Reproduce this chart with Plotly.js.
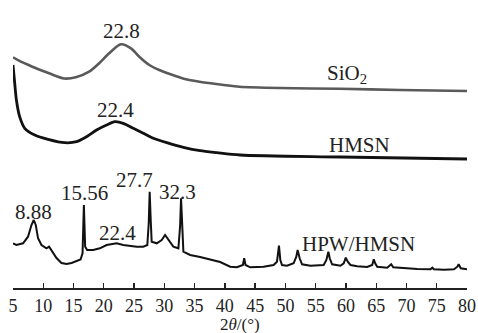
<!DOCTYPE html>
<html>
<head>
<meta charset="utf-8">
<script src="https://cdn.plot.ly/plotly-3.0.1.min.js"></script>
<style>html,body{margin:0;padding:0;background:#fff;}#chart{width:478px;height:333px;}</style>
</head>
<body>
<div id="chart"></div>
<script>
// 2θ (degrees) and intensity (arbitrary units, stacked offsets as drawn)
const sio2X = [5.0, 5.99, 8.2, 10.96, 13.44, 15.38, 17.58, 19.24, 20.89, 22.83, 24.49, 25.86, 27.52, 29.17, 31.37, 33.59, 35.79, 38.56, 41.31, 42.42, 49.0, 58.97, 68.9, 80.0];
const sio2Y = [230.7, 227.3, 221.3, 214.7, 209.5, 210.7, 216.3, 224.7, 234.7, 243.7, 239.7, 231.3, 223, 218, 213, 208.7, 206.3, 204, 202, 201.3, 200, 199.2, 198, 197];

const hmsnX = [5.0, 5.28, 5.56, 6.10, 6.94, 8.59, 10.79, 13.56, 15.50, 17.15, 18.81, 20.46, 21.84, 23.21, 24.87, 26.52, 28.18, 30.40, 33.15, 35.91, 38.68, 42.53, 59.09, 80.0];
const hmsnY = [223, 205, 188, 171.3, 159.7, 153, 148.7, 145.3, 146.3, 151.3, 158, 163, 166.3, 164.7, 159.7, 154.7, 149.7, 145.3, 140.7, 137.3, 135.3, 133, 131, 129];

const hpwX = [5.00, 5.56, 6.66, 7.48, 8.05, 8.43, 8.76, 9.14, 9.70, 10.53, 10.96, 11.36, 12.19, 13.01, 13.84, 14.67, 15.50, 16.16, 16.49, 16.71, 16.92, 17.25, 18.25, 19.35, 20.46, 22.12, 23.21, 24.32, 25.43, 26.52, 27.19, 27.42, 27.58, 27.75, 27.91, 28.74, 29.57, 30.12, 30.66, 31.49, 32.32, 32.60, 32.76, 32.93, 33.15, 34.26, 35.91, 39.22, 40.88, 41.99, 42.98, 43.19, 43.41, 44.19, 46.39, 48.05, 48.61, 48.94, 49.16, 49.44, 50.26, 51.36, 51.80, 52.02, 52.35, 52.75, 54.12, 56.32, 56.77, 57.10, 57.32, 57.72, 59.09, 59.64, 59.97, 60.30, 60.75, 61.85, 63.51, 64.34, 64.60, 64.83, 65.17, 66.82, 67.25, 67.48, 67.81, 69.57, 71.79, 73.99, 74.27, 74.54, 76.19, 77.85, 78.41, 78.62, 78.96, 80.0];
const hpwY = [44.7, 43, 44.7, 51.3, 63, 68, 63, 49.7, 43, 39.7, 41.3, 38, 30, 25, 24, 25, 27, 28.5, 34.7, 83, 41.3, 38, 38, 39.7, 43, 44.7, 43, 42, 41.3, 41.3, 43, 64.7, 96.3, 68, 46.3, 44.7, 48, 53, 48, 41.3, 39.7, 61.3, 89.7, 58, 36.3, 33, 31, 26, 21.3, 20.7, 23, 29.7, 23, 20.7, 21.3, 23, 26.3, 42.3, 28, 23, 22.3, 24.7, 31.3, 38, 29.7, 23.7, 22.3, 23, 28, 36.3, 29.7, 23.7, 22.3, 24.7, 30.3, 26.3, 23, 21.7, 21, 23, 28.7, 24.7, 21.3, 20.3, 22.3, 23.7, 20.7, 19.7, 19, 18.7, 20.3, 18.7, 18.3, 18.7, 21.3, 23.7, 19.7, 18.7];

const tickVals = [5,10,15,20,25,30,35,40,45,50,55,60,65,70,75,80];
const tickText = ["5","10","15","20","25","30","35","40","45","50","55","60","65","70","75","80"];
const xTitle = '2<i>θ</i>/(°)';

const labelText = ["22.8", "22.4", "SiO<sub>2</sub>", "HMSN", "8.88", "15.56", "22.4", "27.7", "32.3", "HPW/HMSN"];
const labelX = [23.0, 21.85, 60.2, 62.3, 8.31, 16.82, 22.25, 25.0, 32.1, 62.1];
const labelY = [257, 178, 214, 143, 76.5, 94.7, 55, 108, 96.5, 44.5];

const serif = 'Liberation Serif, Times New Roman, serif';

const traces = [
  {x: sio2X, y: sio2Y, mode: 'lines', line: {color: '#5a5a5a', width: 2.6, shape: 'spline', smoothing: 0.8}, hoverinfo: 'skip'},
  {x: hmsnX, y: hmsnY, mode: 'lines', line: {color: '#111', width: 2.8, shape: 'spline', smoothing: 0.8}, hoverinfo: 'skip'},
  {x: hpwX, y: hpwY, mode: 'lines', line: {color: '#111', width: 2.0}, hoverinfo: 'skip'}
];

const annotations = labelText.map((t, i) => ({
  text: t, x: labelX[i], y: labelY[i], xref: 'x', yref: 'y',
  showarrow: false, xanchor: 'center', yanchor: 'middle',
  font: {family: serif, size: 21, color: '#222'}
}));
annotations.push({
  text: xTitle, x: 0.5, y: -0.088, xref: 'paper', yref: 'paper',
  showarrow: false, xanchor: 'center', yanchor: 'top',
  font: {family: serif, size: 17, color: '#222'}
});

const layout = {
  width: 478, height: 333,
  margin: {l: 13, r: 11, t: 0, b: 45},
  paper_bgcolor: '#fff', plot_bgcolor: '#fff',
  showlegend: false,
  font: {family: serif, color: '#222'},
  xaxis: {
    range: [5, 80], tickvals: tickVals, ticktext: tickText,
    ticks: 'inside', ticklen: 5, tickwidth: 1.3, tickcolor: '#222',
    showline: true, linecolor: '#222', linewidth: 1.5,
    showgrid: false, zeroline: false,
    ticklabelstandoff: 1,
    tickfont: {family: serif, size: 18, color: '#222'}
  },
  yaxis: {range: [0, 288], visible: false, showgrid: false, zeroline: false},
  annotations: annotations
};

Plotly.newPlot('chart', traces, layout, {displayModeBar: false, staticPlot: true});
</script>
</body>
</html>
